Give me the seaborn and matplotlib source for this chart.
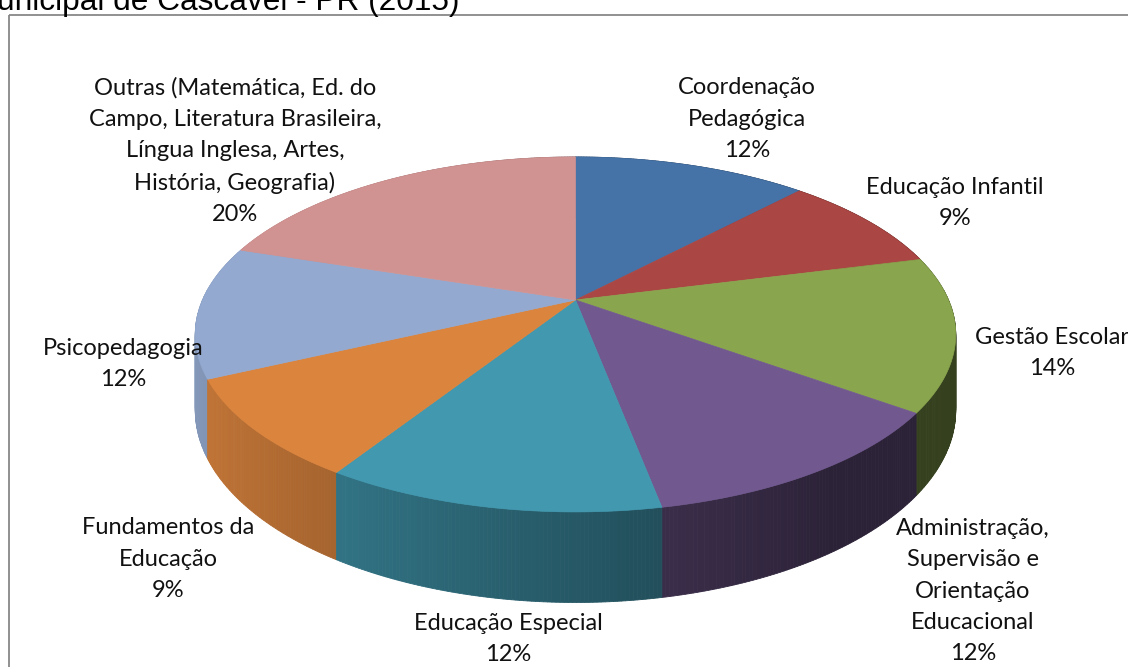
import numpy as np
import matplotlib
matplotlib.use("Agg")
import matplotlib.pyplot as plt
from matplotlib.patches import Polygon, Rectangle
import seaborn as sns

# ---------------- data ----------------
categories = [
    "Coordenação\nPedagógica",
    "Educação Infantil",
    "Gestão Escolar",
    "Administração,\nSupervisão e\nOrientação\nEducacional",
    "Educação Especial",
    "Fundamentos da\nEducação",
    "Psicopedagogia",
    "Outras (Matemática, Ed. do\nCampo, Literatura Brasileira,\nLíngua Inglesa, Artes,\nHistória, Geografia)",
]
values = [12, 9, 14, 12, 12, 9, 12, 20]
title_text = "unicipal de Cascavel - PR (2015)"

# ---------------- style / layout ----------------
slice_colors = ["#4572A7", "#AA4643", "#89A54E", "#71588F",
                "#4198AF", "#DB843D", "#93A9CF", "#D19392"]
label_centers = [(747, 119), (955, 203), (1052, 353), (973, 591),
                 (508, 639), (168, 559), (123, 364), (235, 151)]

sns.set_theme(style="white")
plt.rcParams["font.family"] = ["Lato", "DejaVu Sans"]

palette = sns.color_palette(slice_colors)

fig = plt.figure(figsize=(11.28, 6.67), dpi=100)
ax = fig.add_axes([0, 0, 1, 1])
ax.set_xlim(0, 1128)
ax.set_ylim(667, 0)
ax.axis("off")

# projection of the tilted disk (perspective)
X0, Y0 = 575.5, 300.0
A, B, K, H = 373.0, 170.8, 0.194, 73.0


def proj(x, y, bottom=False):
    s = 1.0 / (1.0 + K * y)
    X = X0 + A * x * s
    Y = Y0 - B * y * s
    if bottom:
        Y = Y + H * s
    return X, Y


total = float(sum(values))
fracs = np.array(values) / total
starts = 90.0 - 360.0 * np.concatenate([[0], np.cumsum(fracs)[:-1]])
ends = starts - 360.0 * fracs

# side walls as shaded strips, painter's order
strips = []
for i in range(len(values)):
    th = np.radians(np.linspace(starts[i], ends[i], max(int(abs(starts[i] - ends[i]) * 2), 4)))
    for a0, a1 in zip(th[:-1], th[1:]):
        x0, y0 = np.cos(a0), np.sin(a0)
        x1, y1 = np.cos(a1), np.sin(a1)
        xm = 0.5 * (x0 + x1)
        ym = 0.5 * (y0 + y1)
        f = float(np.clip(0.58 - 0.33 * xm, 0.39, 0.9))
        col = tuple(c * f for c in palette[i])
        pts = [proj(x0, y0), proj(x1, y1), proj(x1, y1, True), proj(x0, y0, True)]
        strips.append((ym, pts, col))
strips.sort(key=lambda s: -s[0])
for _, pts, col in strips:
    ax.add_patch(Polygon(pts, closed=True, facecolor=col, edgecolor=col, lw=0.6))

# top faces
for i in range(len(values)):
    th = np.radians(np.linspace(starts[i], ends[i], 200))
    pts = [proj(0, 0)] + [proj(np.cos(t), np.sin(t)) for t in th]
    ax.add_patch(Polygon(pts, closed=True, facecolor=palette[i],
                         edgecolor=palette[i], lw=0.5))

# labels
for (cx, cy), cat, v in zip(label_centers, categories, values):
    ax.text(cx, cy, f"{cat}\n{v}%", ha="center", va="center",
            fontsize=17, color="#111111", linespacing=1.61, multialignment="center")

# chart border (partially outside the image)
ax.add_patch(Rectangle((8.5, 15), 1300, 800, fill=False, edgecolor="#888888", lw=1.3))

# cut-off title
ax.text(-3, 10, title_text, ha="left", va="baseline", fontsize=22.8,
        family=["Liberation Sans", "DejaVu Sans"], color="#000000")

fig.savefig("out.png", dpi=100)
